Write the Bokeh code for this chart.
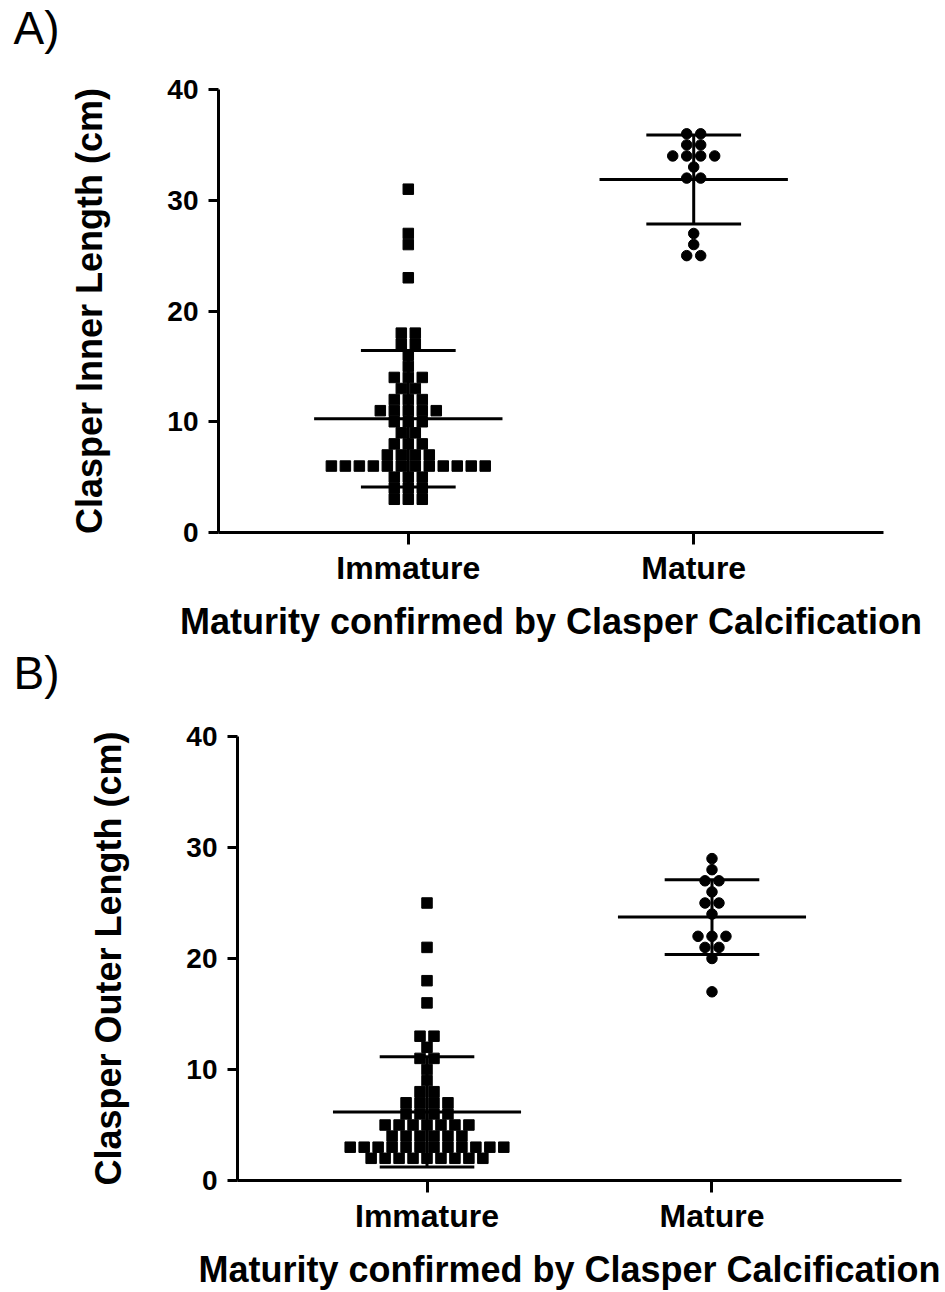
from bokeh.plotting import figure
from bokeh.layouts import column, row
from bokeh.models import FixedTicker, Title
from bokeh.embed import file_html
from bokeh.resources import INLINE

# ---------------- data ----------------
categories = ["Immature", "Mature"]
y_ticks = [0, 10, 20, 30, 40]
x_label = "Maturity confirmed by Clasper Calcification"

# Panel A: Clasper inner length (cm)
inner_immature = [31, 27, 26, 23, 18, 18, 17, 17, 16, 15, 14, 14, 14, 13, 13,
                  12, 12, 12, 11, 11, 11, 11, 11, 10, 10, 10, 9, 9, 8, 8, 8,
                  7, 7, 7, 7, 6, 6, 6, 6, 6, 6, 6, 6, 6, 6, 6, 6,
                  5, 5, 5, 4, 4, 4, 3, 3, 3]
inner_mature = [36, 36, 35, 35, 34, 34, 34, 34, 33, 32, 32, 27, 26, 25, 25]

# Panel B: Clasper outer length (cm)
outer_immature = [25, 21, 18, 16, 13, 13, 12, 11, 11, 10, 9, 8, 8,
                  7, 7, 7, 7, 6, 6, 6, 6, 5, 5, 5, 5, 5, 5, 5,
                  4, 4, 4, 4, 4, 4, 3, 3, 3, 3, 3, 3, 3, 3, 3, 3, 3, 3,
                  2, 2, 2, 2, 2, 2, 2, 2, 2]
outer_mature = [29, 28, 27, 27, 26, 25, 25, 24, 22, 22, 22, 21, 21, 20, 17]

FONT = "Liberation Sans"
SHIFT = 45  # extra top room (hidden by a negative margin) so the panel tag can sit high


def swarm(vals, center, step):
    xs, ys = [], []
    for v in sorted(set(vals), reverse=True):
        k = vals.count(v)
        for i in range(k):
            xs.append(center + (i - (k - 1) / 2) * step)
            ys.append(v)
    return xs, ys


def mean_sd(vals):
    n = len(vals)
    m = sum(vals) / n
    sd = (sum((v - m) ** 2 for v in vals) / (n - 1)) ** 0.5
    return m, sd


def make_panel(imm, mat, ylabel, tag, tag_standoff, width, height, left, right, top, bottom):
    p = figure(width=width, height=height + SHIFT, x_range=(0.335, 2.665), y_range=(0, 40),
               output_backend="svg", toolbar_location=None,
               min_border_left=left, min_border_right=right,
               min_border_top=top + SHIFT, min_border_bottom=bottom)
    p.grid.visible = False
    p.outline_line_color = None
    p.background_fill_color = "white"
    p.border_fill_color = None

    # points
    step = 0.049
    xs, ys = swarm(imm, 1, step)
    p.scatter(xs, ys, marker="square", size=10.5, color="black")
    xs, ys = swarm(mat, 2, step)
    p.scatter(xs, ys, marker="circle", size=10.5, color="black")

    # mean +/- SD bars
    for c, vals in zip([1, 2], [imm, mat]):
        m, sd = mean_sd(vals)
        p.segment(x0=[c], y0=[m - sd], x1=[c], y1=[m + sd], line_color="black", line_width=3)
        p.segment(x0=[c - 0.33], y0=[m], x1=[c + 0.33], y1=[m], line_color="black", line_width=3)
        p.segment(x0=[c - 0.166, c - 0.166], y0=[m - sd, m + sd],
                  x1=[c + 0.166, c + 0.166], y1=[m - sd, m + sd],
                  line_color="black", line_width=3)

    # axes
    for ax in (p.xaxis[0], p.yaxis[0]):
        ax.axis_line_width = 3
        ax.axis_line_color = "black"
        ax.major_tick_line_width = 3
        ax.major_tick_line_color = "black"
        ax.major_tick_in = 0
        ax.minor_tick_line_color = None
        ax.major_label_text_font = FONT
        ax.major_label_text_font_style = "bold"
        ax.major_label_text_color = "black"
        ax.axis_label_text_font = FONT
        ax.axis_label_text_font_style = "bold"
        ax.axis_label_text_color = "black"

    p.xaxis.ticker = FixedTicker(ticks=[1, 2])
    p.xaxis.major_label_overrides = {1: categories[0], 2: categories[1]}
    p.xaxis.major_tick_out = 12
    p.xaxis.major_label_standoff = 5
    p.xaxis.major_label_text_font_size = "32px"
    p.xaxis.axis_label = x_label
    p.xaxis.axis_label_text_font_size = "36px"
    p.xaxis.axis_label_standoff = 12

    p.yaxis.ticker = FixedTicker(ticks=y_ticks)
    p.yaxis.major_tick_out = 10
    p.yaxis.major_label_standoff = 10
    p.yaxis.major_label_text_font_size = "28px"
    p.yaxis.axis_label = ylabel
    p.yaxis.axis_label_text_font_size = "36px"
    p.yaxis.axis_label_standoff = 54

    # panel tag as a left-aligned title shifted to the canvas' left edge
    p.add_layout(Title(text=tag, align="left", vertical_align="bottom", offset=13 - left,
                       standoff=tag_standoff, text_font=FONT, text_font_size="46px",
                       text_font_style="normal", text_color="black"), "above")
    return p


pA = make_panel(inner_immature, inner_mature, "Clasper Inner Length (cm)", "A)", 72,
                945, 645, 218, 62, 89, 113)
pB = make_panel(outer_immature, outer_mature, "Clasper Outer Length (cm)", "B)", 76,
                945, 647, 237, 44, 91, 110)
pA.margin = (-SHIFT, 0, 0, 0)

layout = column(pA, row(pB, margin=(-SHIFT, 0, 0, 0)), spacing=0)
open("out.html", "w").write(file_html(layout, INLINE))
